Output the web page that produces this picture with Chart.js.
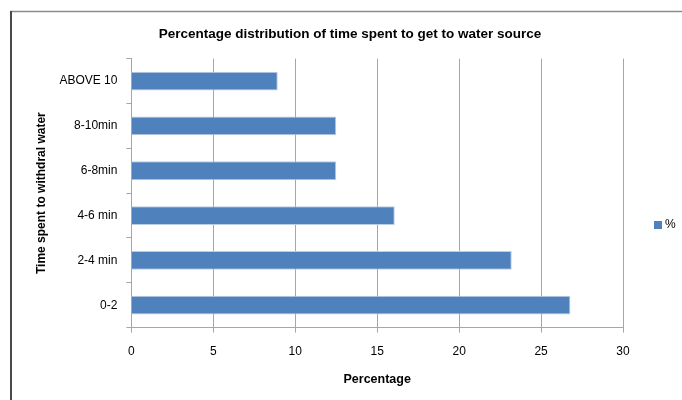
<!DOCTYPE html>
<html>
<head>
<meta charset="utf-8">
<script src="https://cdn.jsdelivr.net/npm/chart.js@4"></script>
<style>
  body { margin: 0; background: #fff; }
  #wrap { width: 682px; height: 400px; }
</style>
</head>
<body>
<div id="wrap"><canvas id="chart" width="682" height="400"></canvas></div>
<script>
const categories = ['ABOVE 10', '8-10min', '6-8min', '4-6 min', '2-4 min', '0-2']
const percent = [8.93, 12.5, 12.5, 16.07, 23.21, 26.79]
const xTicks = [0, 5, 10, 15, 20, 25, 30]
const seriesName = '%'

const FONT = "'Liberation Sans', Arial, sans-serif"
const BLUE = '#4F81BD'
const GRID = '#A6A6A6'

// outer frame + legend, drawn like the excel export
const framePlugin = {
    id: 'frame',
    afterLayout(chart) {
        // excel centres the title a bit further right than chart.js
        chart.titleBlock.left += 29
        chart.titleBlock.right += 29
    },
    afterDraw(chart) {
        const ctx = chart.ctx
        ctx.save()
        ctx.strokeStyle = '#8c8c8c'
        ctx.lineWidth = 1.5
        ctx.beginPath()
        ctx.moveTo(10, 11.5)
        ctx.lineTo(682, 11.5)
        ctx.stroke()
        ctx.strokeStyle = '#4a4a4a'
        ctx.lineWidth = 2
        ctx.beginPath()
        ctx.moveTo(11, 11)
        ctx.lineTo(11, 400)
        ctx.stroke()

        // legend
        ctx.fillStyle = chart.data.datasets[0].backgroundColor
        ctx.fillRect(654, 221, 8, 8)
        ctx.fillStyle = '#000'
        ctx.font = '12px ' + FONT
        ctx.textBaseline = 'middle'
        ctx.fillText(chart.data.datasets[0].label, 665, 225)
        ctx.restore()
    }
}

const bar = document.getElementById('chart').getContext('2d')
const graph = new Chart(bar, {
    type: 'bar',
    data: {
        labels: categories,
        datasets: [{
            label: seriesName,
            data: percent,
            backgroundColor: BLUE,
            borderColor: '#b9cde5',
            borderWidth: 1,
            barPercentage: 0.42,
            categoryPercentage: 1
        }]
    },
    options: {
        indexAxis: 'y',
        responsive: false,
        animation: false,
        layout: { padding: { top: 13, left: 19, right: 59, bottom: 13 } },
        plugins: {
            legend: { display: false },
            tooltip: { enabled: false },
            title: {
                display: true,
                text: 'Percentage distribution of time spent to get to water source',
                color: '#000',
                font: { family: FONT, size: 13.5, weight: 'bold' },
                padding: { top: 13, bottom: 16.5 }
            }
        },
        scales: {
            x: {
                min: xTicks[0],
                max: xTicks[xTicks.length - 1],
                ticks: {
                    stepSize: xTicks[1] - xTicks[0],
                    color: '#000',
                    font: { family: FONT, size: 12 },
                    padding: 12
                },
                grid: { color: GRID, tickLength: 5 },
                border: { color: GRID },
                title: {
                    display: true,
                    text: 'Percentage',
                    color: '#000',
                    font: { family: FONT, size: 12.5, weight: 'bold' },
                    padding: { top: 1, bottom: 0 }
                }
            },
            y: {
                ticks: {
                    color: '#000',
                    font: { family: FONT, size: 12 },
                    padding: 9
                },
                grid: { drawOnChartArea: false, color: GRID, tickLength: 5 },
                border: { color: GRID },
                title: {
                    display: true,
                    text: 'Time spent to withdral water',
                    color: '#000',
                    font: { family: FONT, size: 12, weight: 'bold' },
                    padding: { top: 15, bottom: 2 }
                }
            }
        }
    },
    plugins: [framePlugin]
})
</script>
</body>
</html>
